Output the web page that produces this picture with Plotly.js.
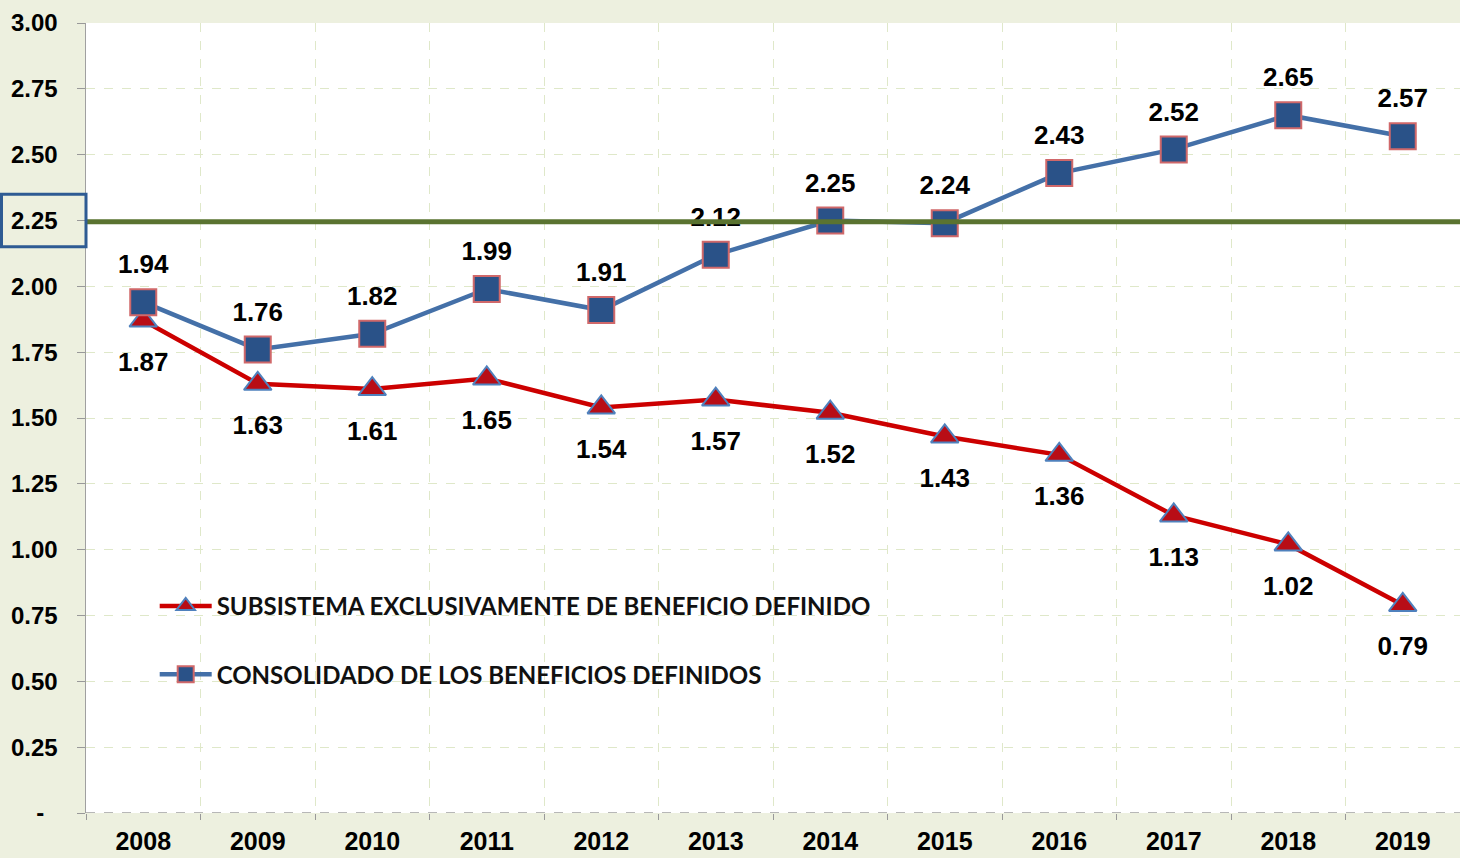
<!DOCTYPE html>
<html>
<head>
<meta charset="utf-8">
<script src="https://cdn.plot.ly/plotly-3.0.1.min.js"></script>
<style>html,body{margin:0;padding:0;background:#edf0df;}#chart{width:1460px;height:858px;}</style>
</head>
<body>
<div id="chart"></div>
<script>
const years = ['2008','2009','2010','2011','2012','2013','2014','2015','2016','2017','2018','2019'];
const subsistema = [1.87,1.63,1.61,1.65,1.54,1.57,1.52,1.43,1.36,1.13,1.02,0.79];
const consolidado = [1.94,1.76,1.82,1.99,1.91,2.12,2.25,2.24,2.43,2.52,2.65,2.57];
const referenceLevel = 2.245;
const yTickVals = [0,0.25,0.5,0.75,1,1.25,1.5,1.75,2,2.25,2.5,2.75,3];
const yTickText = ['-\u2007','0.25','0.50','0.75','1.00','1.25','1.50','1.75','2.00','2.25','2.50','2.75','3.00'];
const nameRed = 'SUBSISTEMA EXCLUSIVAMENTE DE BENEFICIO DEFINIDO';
const nameBlue = 'CONSOLIDADO DE LOS BENEFICIOS DEFINIDOS';

const labelFont = {family:'Liberation Sans, Arial, sans-serif', size:26, color:'#000', weight:'bold'};

const traces = [
  {
    x: years, y: subsistema, name: nameRed, type:'scatter', mode:'lines+markers',
    legendgroup:'a',
    line:{color:'#cc0000', width:4.5},
    marker:{symbol:'triangle-up', size:24, color:'#b80d16', line:{color:'#4f81bd', width:2}},
    hoverinfo:'x+y'
  },
  {
    x: years, y: consolidado, name: nameBlue, type:'scatter', mode:'lines+markers',
    legendgroup:'b',
    line:{color:'#4470a8', width:4.5},
    marker:{symbol:'square', size:26, color:'#2a5288', line:{color:'#d0686a', width:2}},
    hoverinfo:'x+y'
  },
  {
    x: years, y: subsistema, type:'scatter', mode:'markers+text', showlegend:false,
    marker:{size:48, opacity:0},
    text: subsistema.map(v=>v.toFixed(2)), textposition:'bottom center',
    textfont: labelFont, cliponaxis:false, hoverinfo:'skip'
  },
  {
    x: years, y: consolidado, type:'scatter', mode:'markers+text', showlegend:false,
    marker:{size:34, opacity:0},
    text: consolidado.map(v=>v.toFixed(2)), textposition:'top center',
    textfont: labelFont, cliponaxis:false, hoverinfo:'skip'
  }
];

const layout = {
  width:1460, height:858,
  paper_bgcolor:'#edf0df', plot_bgcolor:'#ffffff',
  margin:{l:86, r:0, t:23, b:45},
  showlegend:true,
  legend:{x:0.05, y:0.29, xanchor:'left', yanchor:'top', bgcolor:'rgba(255,255,255,0)',
    font:{family:'Lato, Calibri, sans-serif', size:24, color:'#111', weight:'bold'},
    traceorder:'grouped', tracegroupgap:34, itemwidth:52},
  xaxis:{type:'category', range:[-0.5,11.5], tickson:'boundaries', ticks:'outside', ticklen:6,
    tickcolor:'#999', showgrid:true, gridcolor:'#dfe8c9', griddash:'dash', gridwidth:1,
    showline:false, zeroline:false, fixedrange:true,
    tickfont:{family:'Liberation Sans, Arial, sans-serif', size:25, color:'#000', weight:'bold'},
    ticklabelstandoff:11},
  yaxis:{range:[0,3], tickvals:yTickVals, ticktext:yTickText, ticks:'outside', ticklen:8,
    tickcolor:'#999', showgrid:true, gridcolor:'#dfe8c9', griddash:'dash', gridwidth:1,
    showline:true, linecolor:'#a0a0a0', linewidth:1.5, zeroline:false, fixedrange:true,
    tickfont:{family:'Liberation Sans, Arial, sans-serif', size:24, color:'#000', weight:'bold'},
    ticklabelstandoff:14},
  shapes:[
    {type:'line', xref:'paper', yref:'y', x0:0, x1:1, y0:0, y1:0, line:{color:'#a0a0a0', width:1.5, dash:'dash'}, layer:'above'},
    {type:'line', xref:'paper', yref:'y', x0:0, x1:1, y0:referenceLevel, y1:referenceLevel, line:{color:'#5a7330', width:5}, layer:'above'},
    {type:'rect', xref:'paper', yref:'y', x0:-0.0615, x1:0, y0:2.15, y1:2.35, line:{color:'#2e5b93', width:3}, fillcolor:'rgba(0,0,0,0)', layer:'above'}
  ]
};

Plotly.newPlot('chart', traces, layout, {displayModeBar:false, staticPlot:true});
</script>
</body>
</html>
